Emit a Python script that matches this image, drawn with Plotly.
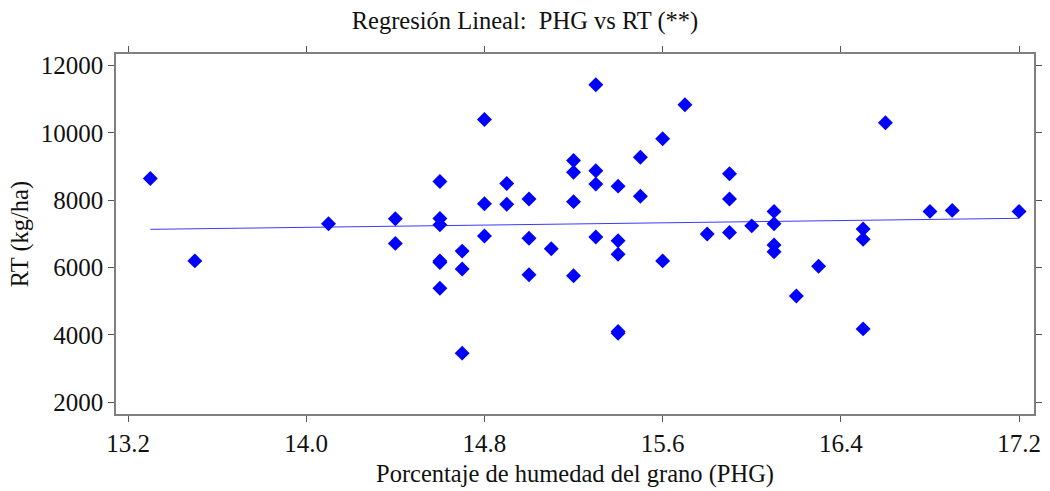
import plotly.graph_objects as go

# Porcentaje de humedad del grano (PHG) y rendimiento total (RT, kg/ha)
phg = [
    13.3, 13.5, 14.1, 14.4, 14.4,
    14.6, 14.6, 14.6, 14.6, 14.6, 14.6,
    14.7, 14.7, 14.7,
    14.8, 14.8, 14.8,
    14.9, 14.9,
    15.0, 15.0, 15.0,
    15.1,
    15.2, 15.2, 15.2, 15.2,
    15.3, 15.3, 15.3, 15.3,
    15.4, 15.4, 15.4, 15.4, 15.4,
    15.5, 15.5,
    15.6, 15.6,
    15.7, 15.8,
    15.9, 15.9, 15.9,
    16.0,
    16.1, 16.1, 16.1, 16.1,
    16.2, 16.3,
    16.5, 16.5, 16.5,
    16.6, 16.8, 16.9, 17.2,
]
rt = [
    8650, 6200, 7300, 7450, 6720,
    8560, 7460, 7270, 6200, 6150, 5390,
    6490, 5960, 3460,
    10400, 7900, 6940,
    8500, 7880,
    8040, 6870, 5790,
    6560,
    9180, 8830, 7960, 5760,
    11430, 8880, 8480, 6910,
    8420, 6800, 6400, 4100, 4050,
    9280, 8120,
    9830, 6200,
    10840, 7000,
    8790, 8040, 7040,
    7240,
    7670, 7300, 6670, 6470,
    5160, 6040,
    7150, 6840, 4180,
    10300, 7670, 7700, 7670,
]

# Recta de regresión: RT = intercepto + pendiente * PHG
intercepto = 6020.0
pendiente = 84.0

x_ticks = [13.2, 14.0, 14.8, 15.6, 16.4, 17.2]
y_ticks = [2000, 4000, 6000, 8000, 10000, 12000]

x_fit = [min(phg), max(phg)]
y_fit = [intercepto + pendiente * v for v in x_fit]

font_family = "Liberation Serif, Times New Roman, serif"
axis_color = "#7f7f7f"

fig = go.Figure()
fig.add_trace(go.Scatter(
    x=x_fit, y=y_fit, mode="lines",
    line=dict(color="#3a3aff", width=1),
    hoverinfo="skip", showlegend=False,
))
fig.add_trace(go.Scatter(
    x=phg, y=rt, mode="markers",
    marker=dict(symbol="diamond", size=11.5, color="#0000ff", line=dict(width=0)),
    showlegend=False,
))

fig.update_layout(
    width=1050, height=491,
    margin=dict(l=116, r=16, t=54, b=77),
    paper_bgcolor="white", plot_bgcolor="white",
    font=dict(family=font_family, size=24.5, color="#111111"),
    title=dict(
        text="Regresión Lineal:  PHG vs RT (**)",
        x=0.5, xanchor="center", y=0.958, yanchor="middle",
        font=dict(family=font_family, size=24.5, color="#111111"),
    ),
)
fig.update_xaxes(
    range=[13.146, 17.267], automargin=False,
    tickvals=x_ticks, ticktext=[f"{v:.1f}" for v in x_ticks],
    ticks="outside", ticklen=6, tickcolor="#555555", tickwidth=1,
    showline=True, linecolor=axis_color, linewidth=1.5, mirror="ticks",
    showgrid=False, zeroline=False,
    tickfont=dict(size=25),
    title=dict(text="Porcentaje de humedad del grano (PHG)", font=dict(size=24.5), standoff=9),
)
fig.update_yaxes(
    range=[1652, 12345], automargin=False,
    tickvals=y_ticks, ticktext=[str(v) for v in y_ticks],
    ticks="outside", ticklen=6, tickcolor="#555555", tickwidth=1,
    showline=True, linecolor=axis_color, linewidth=1.5, mirror="ticks",
    showgrid=False, zeroline=False,
    tickfont=dict(size=25),
    title=dict(text="RT (kg/ha)", font=dict(size=24.5), standoff=5),
)

fig.write_html("out.html")
